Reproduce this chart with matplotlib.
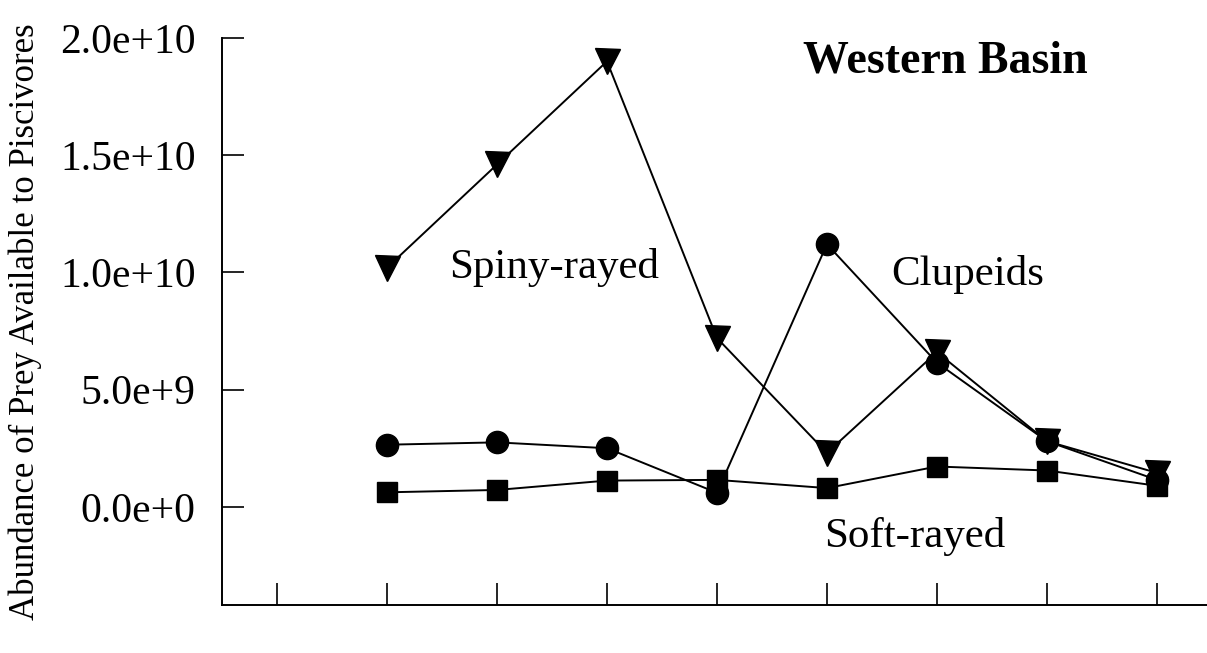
import numpy as np
import matplotlib.pyplot as plt
from matplotlib.ticker import FuncFormatter

# Sampling occasions along the x axis (tick 0 carries no data)
occasions = [1, 2, 3, 4, 5, 6, 7, 8]

# Prey abundance per group
spiny_rayed = [10.2e9, 14.6e9, 19.0e9, 7.2e9, 2.3e9, 6.6e9, 2.8e9, 1.45e9]
clupeids = [2.65e9, 2.75e9, 2.5e9, 0.6e9, 11.2e9, 6.15e9, 2.8e9, 1.15e9]
soft_rayed = [0.62e9, 0.72e9, 1.12e9, 1.15e9, 0.8e9, 1.72e9, 1.55e9, 0.9e9]

plt.rcParams['font.family'] = ['Liberation Serif', 'DejaVu Serif']

fig = plt.figure(figsize=(12.07, 6.53), dpi=100)
ax = fig.add_axes([0.184, 0.073, 0.82, 0.869])

ax.plot(occasions, spiny_rayed, color='black', lw=1.4, marker='v', ms=18, zorder=3)
ax.plot(occasions, clupeids, color='black', lw=1.4, marker='o', ms=16, zorder=3)
ax.plot(occasions, soft_rayed, color='black', lw=1.4, marker='s', ms=15, zorder=3)

ax.text(2.52, 10.2e9, 'Spiny-rayed', fontsize=31, ha='center', va='center')
ax.text(6.28, 9.9e9, 'Clupeids', fontsize=31, ha='center', va='center')
ax.text(5.8, -1.25e9, 'Soft-rayed', fontsize=31, ha='center', va='center')
ax.text(6.08, 19.0e9, 'Western Basin', fontsize=33, fontweight='bold',
        ha='center', va='center')

ax.set_xlim(-0.5, 8.5)
ax.set_ylim(-4.2e9, 2.0e10)
ax.set_xticks(range(9))
ax.set_xticklabels([])
ax.set_yticks([0, 5e9, 1e10, 1.5e10, 2e10])


def sci_label(v, pos):
    if v == 0:
        return '0.0e+0'
    exp = int(np.floor(np.log10(abs(v))))
    return '{:.1f}e+{}'.format(v / 10 ** exp, exp)


ax.yaxis.set_major_formatter(FuncFormatter(sci_label))
ax.tick_params(axis='both', direction='in', length=16, width=1.2, labelsize=30)
ax.tick_params(axis='y', pad=19)

for side in ['top', 'right']:
    ax.spines[side].set_visible(False)
for side in ['left', 'bottom']:
    ax.spines[side].set_linewidth(1.4)

ax.set_ylabel('Abundance of Prey Available to Piscivores', fontsize=25, labelpad=13)

fig.savefig('out.png', dpi=100)
